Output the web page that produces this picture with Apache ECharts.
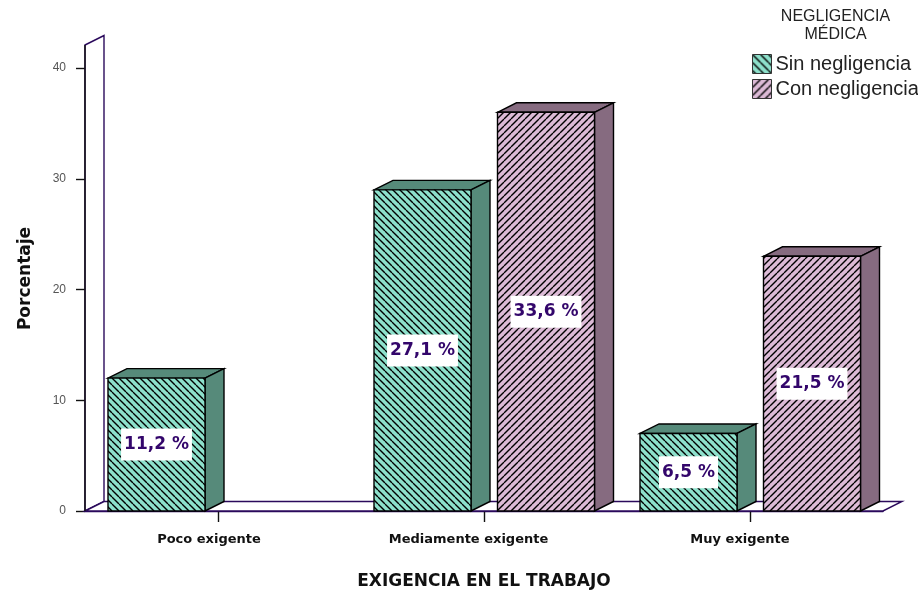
<!DOCTYPE html>
<html><head><meta charset="utf-8">
<style>html,body{margin:0;padding:0;background:#fff}#c{width:918px;height:591px}</style>
<script src="https://cdn.jsdelivr.net/npm/echarts@6/dist/echarts.min.js"></script>
</head><body><div id="c"></div>
<script>
const categories = ['Poco exigente', 'Mediamente exigente', 'Muy exigente'];
const sinNegligencia = [12, 29, 7];
const conNegligencia = [null, 36, 23];
const sinEtiquetas = ['11,2 %', '27,1 %', '6,5 %'];
const conEtiquetas = ['', '33,6 %', '21,5 %'];
const yTicks = [0, 10, 20, 30, 40];

const PURPLE = '#2b0a5c', LABEL = '#33066b', INK = '#111111';
const TEAL = '#8de0cb', TEAL_DARK = '#568a7a', MAUVE = '#dcbad6', MAUVE_DARK = '#866b80';
const DEPTH_X = 19, DEPTH_Y = 9.5;
const BAR = 97;

function hatch(bg, dir, size, lw) {
  const c = document.createElement('canvas');
  c.width = c.height = size;
  const g = c.getContext('2d');
  g.fillStyle = bg; g.fillRect(0, 0, size, size);
  g.strokeStyle = '#000'; g.lineWidth = lw;
  for (let k = -1; k <= 1; k++) {
    g.beginPath();
    if (dir > 0) { g.moveTo(k * size, size); g.lineTo(k * size + size, 0); }
    else { g.moveTo(k * size, 0); g.lineTo(k * size + size, size); }
    g.stroke();
  }
  return { image: c, repeat: 'repeat' };
}
const tealFill = hatch(TEAL, -1, 7, 1.35), mauveFill = hatch(MAUVE, 1, 7, 1.35);
const tealKey = hatch(TEAL, -1, 8, 1.4), mauveKey = hatch(MAUVE, 1, 8, 1.4);

function barRenderer(offset, front, side, labels) {
  return function (params, api) {
    const v = api.value(1);
    if (v == null || isNaN(v)) return;
    const cat = api.value(0);
    const top = api.coord([cat, v]), base = api.coord([cat, 0]);
    const l = top[0] + offset, r = l + BAR, t = top[1], b = base[1];
    const stroke = { stroke: '#000', lineWidth: 1.4, lineJoin: 'miter' };
    const text = labels[params.dataIndex];
    return { type: 'group', children: [
      { type: 'polygon', shape: { points: [[l, t], [l + DEPTH_X, t - DEPTH_Y], [r + DEPTH_X, t - DEPTH_Y], [r, t]] }, style: Object.assign({ fill: side }, stroke) },
      { type: 'polygon', shape: { points: [[r, t], [r + DEPTH_X, t - DEPTH_Y], [r + DEPTH_X, b - DEPTH_Y], [r, b]] }, style: Object.assign({ fill: side }, stroke) },
      { type: 'rect', shape: { x: l, y: t, width: BAR, height: b - t }, style: Object.assign({ fill: front }, stroke) },
      { type: 'text', x: (l + r) / 2, y: (t + b) / 2, z2: 10, style: {
        text, align: 'center', verticalAlign: 'middle', fill: LABEL,
        font: 'bold 17px "DejaVu Sans"', backgroundColor: '#fff', padding: [8, 3, 7, 3] } }
    ] };
  };
}

function frameRenderer(params) {
  const s = params.coordSys, x = s.x, y = s.y + s.height, w = s.width;
  const wallTop = s.y - 23;
  const line = { stroke: PURPLE, lineWidth: 1.4, fill: '#fff' };
  return { type: 'group', children: [
    { type: 'polygon', shape: { points: [[x, wallTop], [x + DEPTH_X, wallTop - DEPTH_Y], [x + DEPTH_X, y - DEPTH_Y], [x, y]] }, style: line },
    { type: 'polygon', shape: { points: [[x, y], [x + DEPTH_X, y - DEPTH_Y], [x + w + DEPTH_X, y - DEPTH_Y], [x + w, y]] }, style: line },
    { type: 'line', shape: { x1: x, y1: wallTop, x2: x, y2: y }, style: { stroke: INK, lineWidth: 1.4 } }
  ] };
}

const catLabelStyle = { fontFamily: 'DejaVu Sans', fontWeight: 'bold', fontSize: 13, color: INK };
const chart = echarts.init(document.getElementById('c'), null, { renderer: 'canvas' });
chart.setOption({
  animation: false,
  backgroundColor: '#fff',
  title: {
    text: 'NEGLIGENCIA\nMÉDICA', left: 830.5, top: 3, textAlign: 'center',
    textStyle: { fontFamily: 'Liberation Sans', fontSize: 16, fontWeight: 'normal', color: '#222', lineHeight: 18 }
  },
  legend: {
    left: 747, top: 49, orient: 'vertical', itemWidth: 19, itemHeight: 19, itemGap: 5,
    textStyle: { fontFamily: 'Liberation Sans', fontSize: 20, color: '#222', padding: [0, 0, 0, -1] },
    data: [
      { name: 'Sin negligencia', icon: 'rect', itemStyle: { color: tealKey, borderColor: '#333', borderWidth: 1 } },
      { name: 'Con negligencia', icon: 'rect', itemStyle: { color: mauveKey, borderColor: '#333', borderWidth: 1 } }
    ]
  },
  grid: { left: 85, right: 35, top: 68, bottom: 80, outerBoundsMode: 'none' },
  xAxis: {
    type: 'category', data: categories, boundaryGap: true,
    name: 'EXIGENCIA EN EL TRABAJO', nameLocation: 'middle', nameGap: 62,
    nameTextStyle: { fontFamily: 'DejaVu Sans', fontWeight: 'bold', fontSize: 17, color: INK },
    axisLine: { lineStyle: { color: PURPLE, width: 1.4 } },
    axisTick: { show: true, alignWithLabel: true, length: 11, lineStyle: { color: INK, width: 1.4 } },
    axisLabel: Object.assign({
      margin: 22,
      formatter: (v, i) => '{c' + i + '|' + v + '}',
      rich: {
        c0: Object.assign({ padding: [0, 18, 0, 0] }, catLabelStyle),
        c1: Object.assign({ padding: [0, 31, 0, 0] }, catLabelStyle),
        c2: Object.assign({ padding: [0, 20, 0, 0] }, catLabelStyle)
      }
    }, catLabelStyle)
  },
  yAxis: {
    type: 'value', min: yTicks[0], max: yTicks[yTicks.length - 1], interval: yTicks[1] - yTicks[0],
    name: 'Porcentaje', nameLocation: 'middle', nameGap: 51, nameRotate: 90,
    nameTextStyle: { fontFamily: 'DejaVu Sans', fontWeight: 'bold', fontSize: 17, color: INK, padding: [0, 0, 0, 22] },
    splitLine: { show: false },
    axisLine: { show: true, lineStyle: { color: INK, width: 1.4 } },
    axisTick: { show: true, length: 9, lineStyle: { color: INK, width: 1.4 } },
    axisLabel: { margin: 19, fontFamily: 'Liberation Sans', fontSize: 12, color: '#555' }
  },
  series: [
    { type: 'custom', name: 'marco', silent: true, clip: false, z: 1, data: [[0, 0]],
      encode: { x: 0, y: 1 }, renderItem: frameRenderer },
    { type: 'custom', name: 'Sin negligencia', clip: false, z: 3,
      itemStyle: { color: tealKey, borderColor: '#333', borderWidth: 1 },
      encode: { x: 0, y: 1 },
      data: categories.map((c, i) => [i, sinNegligencia[i]]),
      renderItem: barRenderer(-110, tealFill, TEAL_DARK, sinEtiquetas) },
    { type: 'custom', name: 'Con negligencia', clip: false, z: 3,
      itemStyle: { color: mauveKey, borderColor: '#333', borderWidth: 1 },
      encode: { x: 0, y: 1 },
      data: categories.map((c, i) => [i, conNegligencia[i] == null ? '-' : conNegligencia[i]]),
      renderItem: barRenderer(13.5, mauveFill, MAUVE_DARK, conEtiquetas) }
  ]
});
</script></body></html>
